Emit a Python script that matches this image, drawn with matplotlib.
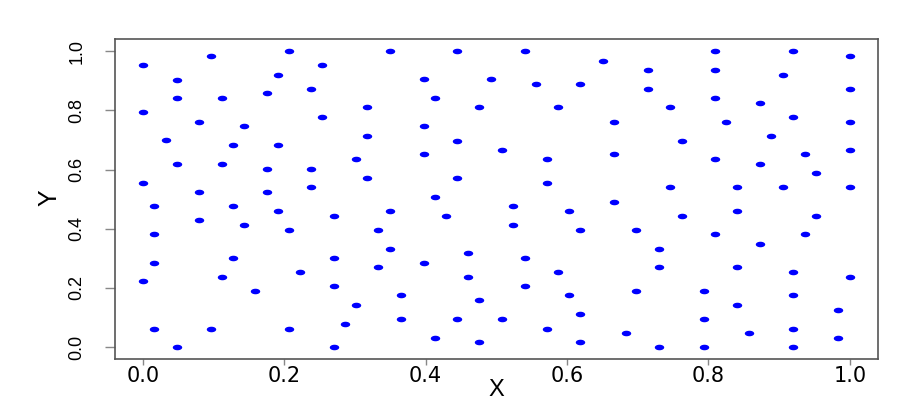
import matplotlib
matplotlib.use("Agg")
import matplotlib.pyplot as plt
import numpy as np
from matplotlib.path import Path

# point coordinates (left, middle, right thirds)
x_vals = [
    0.000, 0.096, 0.207, 0.254, 0.048, 0.191, 0.048, 0.112, 0.175, 0.238,
    0.000, 0.080, 0.143, 0.254, 0.317, 0.032, 0.127, 0.191, 0.317, 0.302,
    0.048, 0.112, 0.175, 0.238, 0.317, 0.000, 0.080, 0.175, 0.238, 0.016,
    0.127, 0.191, 0.270, 0.080, 0.143, 0.207, 0.016, 0.127, 0.270, 0.016,
    0.222, 0.000, 0.112, 0.159, 0.270, 0.302, 0.286, 0.016, 0.096, 0.207,
    0.048, 0.270,
    0.349, 0.444, 0.540, 0.651, 0.397, 0.492, 0.556, 0.619, 0.413, 0.476,
    0.587, 0.667, 0.397, 0.444, 0.508, 0.397, 0.571, 0.667, 0.444, 0.571,
    0.413, 0.667, 0.349, 0.429, 0.524, 0.603, 0.524, 0.333, 0.619, 0.349,
    0.460, 0.540, 0.333, 0.397, 0.587, 0.460, 0.540, 0.365, 0.603, 0.476,
    0.619, 0.365, 0.444, 0.508, 0.571, 0.413, 0.476, 0.619,
    0.809, 0.920, 1.000, 0.714, 0.809, 0.905, 0.714, 1.000, 0.809, 0.873,
    0.746, 0.920, 0.825, 1.000, 0.762, 0.889, 0.809, 0.873, 0.937, 1.000,
    0.952, 0.746, 0.841, 0.905, 1.000, 0.762, 0.841, 0.952, 0.698, 0.809,
    0.937, 0.873, 0.730, 0.730, 0.841, 0.920, 1.000, 0.698, 0.794, 0.920,
    0.841, 0.984, 0.794, 0.683, 0.857, 0.920, 0.984, 0.730, 0.794, 0.920,
]
y_vals = [
    0.953, 0.984, 1.000, 0.953, 0.904, 0.921, 0.841, 0.841, 0.857, 0.873,
    0.793, 0.762, 0.746, 0.777, 0.810, 0.699, 0.682, 0.682, 0.714, 0.635,
    0.619, 0.619, 0.603, 0.603, 0.571, 0.556, 0.524, 0.524, 0.540, 0.476,
    0.476, 0.460, 0.444, 0.429, 0.413, 0.397, 0.381, 0.302, 0.302, 0.286,
    0.254, 0.222, 0.238, 0.190, 0.206, 0.143, 0.079, 0.063, 0.063, 0.063,
    0.000, 0.000,
    1.000, 1.000, 1.000, 0.968, 0.905, 0.905, 0.889, 0.889, 0.841, 0.810,
    0.810, 0.762, 0.746, 0.698, 0.667, 0.651, 0.635, 0.651, 0.571, 0.556,
    0.508, 0.492, 0.460, 0.444, 0.476, 0.460, 0.413, 0.397, 0.397, 0.333,
    0.317, 0.302, 0.270, 0.286, 0.254, 0.238, 0.206, 0.175, 0.175, 0.159,
    0.111, 0.095, 0.095, 0.095, 0.063, 0.032, 0.016, 0.016,
    1.000, 1.000, 0.984, 0.937, 0.937, 0.921, 0.873, 0.873, 0.841, 0.825,
    0.810, 0.778, 0.762, 0.762, 0.698, 0.714, 0.635, 0.619, 0.651, 0.667,
    0.587, 0.540, 0.540, 0.540, 0.540, 0.444, 0.460, 0.444, 0.397, 0.381,
    0.381, 0.349, 0.333, 0.270, 0.270, 0.254, 0.238, 0.190, 0.190, 0.175,
    0.143, 0.127, 0.095, 0.048, 0.048, 0.063, 0.032, 0.000, 0.000, 0.000,
]
ticks = [0.0, 0.2, 0.4, 0.6, 0.8, 1.0]
tick_labels = ["0.0", "0.2", "0.4", "0.6", "0.8", "1.0"]

# dots in the reference are squashed ellipses
theta = np.linspace(0, 2 * np.pi, 40)
ellipse = Path(np.column_stack([1.7 * np.cos(theta), np.sin(theta)]), closed=True)

fig = plt.figure(figsize=(9.13, 4.09), dpi=100)
ax = fig.add_axes([0.1256, 0.1222, 0.8361, 0.7817])

ax.plot(x_vals, y_vals, linestyle="none", marker=ellipse, markersize=6.8,
        color="#0000ff", markeredgewidth=0)

ax.set_xlim(-0.04, 1.04)
ax.set_ylim(-0.04, 1.04)

ax.set_xticks(ticks)
ax.set_xticklabels(tick_labels, fontsize=15, family="DejaVu Sans")
ax.set_yticks(ticks)
ax.set_yticklabels(tick_labels, fontsize=13, family="Liberation Sans",
                   rotation=90, va="center")
ax.tick_params(axis="x", length=4, width=1, color="#888888", pad=1)
ax.tick_params(axis="y", length=7, width=1, color="#888888", pad=14)

for sp in ax.spines.values():
    sp.set_color("#555555")
    sp.set_linewidth(1.2)

ax.set_xlabel("X", fontsize=17, family="Liberation Sans")
ax.xaxis.set_label_coords(0.5, -0.097)
ax.xaxis.label.set_va("center")
ax.set_ylabel("Y", fontsize=18, family="Liberation Sans", va="center")
ax.yaxis.set_label_coords(-0.086, 0.504)

fig.savefig("out.png", dpi=100)
